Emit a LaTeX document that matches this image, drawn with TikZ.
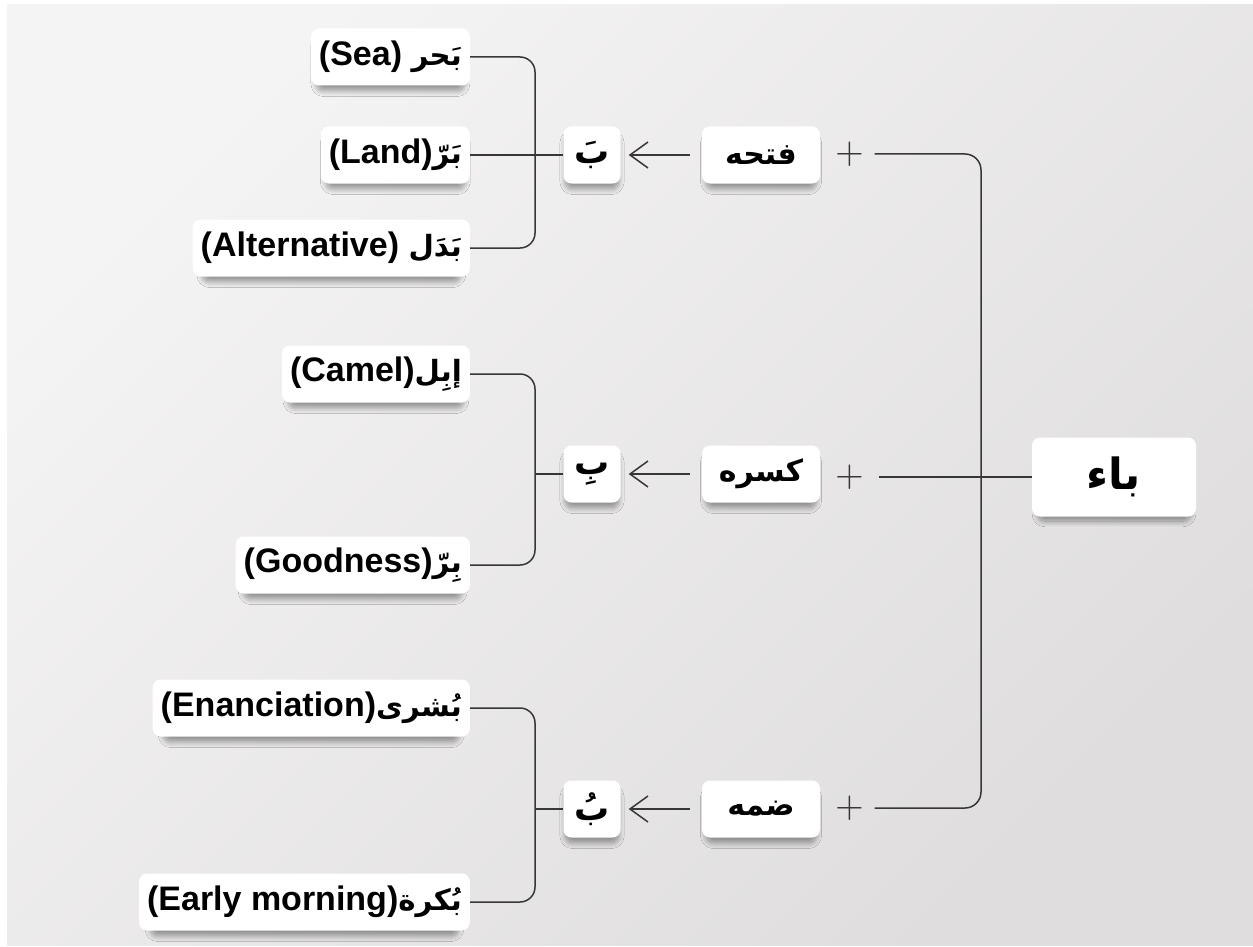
\documentclass[tikz,border=0pt]{standalone}
\usepackage{fontspec}
\setmainfont{Liberation Sans}
\newfontfamily\ar[Script=Arabic]{DejaVu Sans}
\newfontfamily\arsm[Script=Arabic,Scale=0.86]{DejaVu Sans}
\newfontfamily\plusfont{lmroman10-regular.otf}
\TeXXeTstate=1
\usetikzlibrary{arrows.meta,shadows.blur}
\definecolor{bgA}{RGB}{245,244,245}
\definecolor{bgB}{RGB}{223,221,222}
\definecolor{ln}{RGB}{55,55,55}
\tikzset{
  box/.style={fill=white, rounded corners=8pt, minimum height=57pt, inner xsep=8pt, inner ysep=0pt,
    font=\fontsize{30}{36}\selectfont\bfseries, text=black,
    blur shadow={shadow xshift=0pt, shadow yshift=-8pt, shadow blur radius=6pt, shadow blur steps=12, shadow opacity=40, shadow scale=0.93}},
  leaf/.style={box, anchor=east, font=\fontsize{34}{40}\selectfont\bfseries},
  conn/.style={draw=ln, line width=1.5pt},
  arr/.style={conn, -{Straight Barb[length=18pt,width=26pt,line width=1.5pt]}, shorten <=12pt, shorten >=8pt},
  plus/.style={inner sep=0pt, font=\fontsize{37}{40}\selectfont\plusfont, text=ln},
}
\begin{document}
\begin{tikzpicture}[x=1pt,y=-1pt]
\useasboundingbox (0,0) rectangle (1253,947);
\fill[white] (0,0) rectangle (1253,947);
\shade[top color=bgA, bottom color=bgB, shading angle=45] (7,5) rectangle (1253,945);

\coordinate (bx) at (535,0);
\coordinate (rx) at (981,0);

% leaves
\node[leaf] (sea) at (470,57) {(Sea) {\arsm\beginR بَحر\endR}};
\node[leaf] (land) at (470,155) {(Land){\arsm\beginR بَرّ\endR}};
\node[leaf] (alt) at (470,248) {(Alternative) {\arsm\beginR بَدَل\endR}};
\node[leaf] (camel) at (470,374) {(Camel){\arsm\beginR إبِل\endR}};
\node[leaf] (good) at (470,565) {(Goodness){\arsm\beginR بِرّ\endR}};
\node[leaf] (enan) at (470,708) {(Enanciation){\arsm\beginR بُشرى\endR}};
\node[leaf] (early) at (470,902) {(Early morning){\arsm\beginR بُكرة\endR}};

% letter boxes
\node[box, minimum width=57pt, inner xsep=0pt, font=\fontsize{35}{40}\selectfont\bfseries] (ba1) at (592,155) {\ar\beginR بَ\endR};
\node[box, minimum width=57pt, inner xsep=0pt, font=\fontsize{35}{40}\selectfont\bfseries] (ba2) at (592,474) {\ar\beginR بِ\endR};
\node[box, minimum width=57pt, inner xsep=0pt, font=\fontsize{35}{40}\selectfont\bfseries] (ba3) at (592,809) {\ar\beginR بُ\endR};

% vowel boxes
\node[box, minimum width=118pt] (fat) at (761,155) {\ar\beginR فتحه\endR};
\node[box, minimum width=118pt] (kas) at (761,474) {\ar\beginR كسره\endR};
\node[box, minimum width=118pt] (dam) at (761,809) {\ar\beginR ضمه\endR};

% plus signs
\node[plus] (p1) at (850,154) {+};
\node[plus] (p2) at (850,477) {+};
\node[plus] (p3) at (850,808) {+};

% root
\node[box, minimum width=164pt, minimum height=79pt, font=\fontsize{43}{48}\selectfont\bfseries] (baa) at (1114,477) {\ar\beginR باء\endR};

% brackets
\draw[conn, rounded corners=15pt] (sea.east) -- (sea.east -| bx) -- (alt.east -| bx) -- (alt.east);
\draw[conn] (land.east) -- (ba1.west);
\draw[conn, rounded corners=15pt] (camel.east) -- (camel.east -| bx) -- (good.east -| bx) -- (good.east);
\draw[conn] (ba2.west -| bx) -- (ba2.west);
\draw[conn, rounded corners=15pt] (enan.east) -- (enan.east -| bx) -- (early.east -| bx) -- (early.east);
\draw[conn] (ba3.west -| bx) -- (ba3.west);

% arrows
\draw[arr] (fat) -- (ba1);
\draw[arr] (kas) -- (ba2);
\draw[arr] (dam) -- (ba3);

% root connectors
\draw[conn, rounded corners=16pt] ([xshift=10pt]p1.east) -- (p1.east -| rx) -- (p3.east -| rx) -- ([xshift=10pt]p3.east);
\draw[conn] ([xshift=14pt]p2.east) -- (baa.west);
\end{tikzpicture}
\end{document}
